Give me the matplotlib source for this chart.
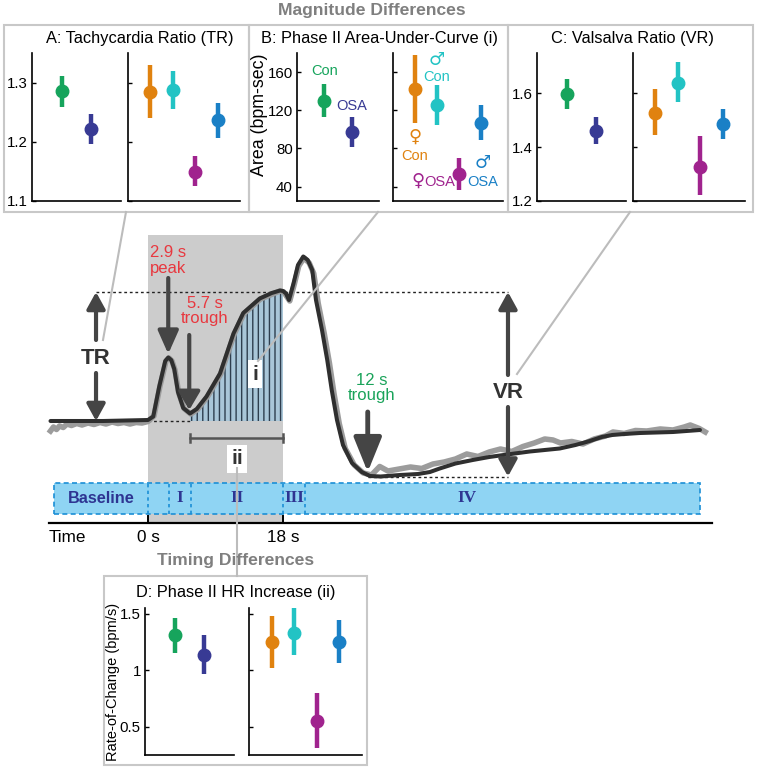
import matplotlib.pyplot as plt
from matplotlib.patches import Rectangle, FancyArrowPatch

plt.rcParams['font.family'] = ['Liberation Sans', 'DejaVu Sans']
plt.rcParams['hatch.linewidth'] = 1.0

# ---- group colours (Con / OSA, then female Con, male Con, female OSA, male OSA)
pair_colors = ['#16a45c', '#383a94']
sex_colors = ['#e0820f', '#22c3c4', '#a0238e', '#1a80c6']

# ---- panel data: mean, lower, upper
tr_pair = [[1.285, 1.222], [1.259, 1.197], [1.311, 1.247]]
tr_sex = [[1.284, 1.287, 1.149, 1.236], [1.240, 1.256, 1.125, 1.207], [1.330, 1.319, 1.176, 1.266]]
auc_pair = [[130, 97], [113, 82], [148, 113]]
auc_sex = [[142, 126, 53, 107], [107, 105, 37, 89], [178, 146, 70, 126]]
vr_pair = [[1.596, 1.460], [1.543, 1.410], [1.654, 1.512]]
vr_sex = [[1.527, 1.637, 1.326, 1.486], [1.444, 1.567, 1.221, 1.431], [1.615, 1.715, 1.441, 1.543]]
rate_pair = [[1.31, 1.13], [1.15, 0.97], [1.46, 1.31]]
rate_sex = [[1.25, 1.33, 0.55, 1.25], [1.02, 1.13, 0.31, 1.06], [1.48, 1.55, 0.80, 1.44]]

# ---- schematic heart-rate trace (time in s, HR in bpm)
t_fit = [-13.0, -6.0, 0.0, 0.7, 1.5, 2.3, 2.7, 3.1, 3.5, 4.0, 4.7, 5.6, 6.5, 7.8, 9.6,
         11.4, 12.7, 14.9, 16.5, 17.6, 18.0, 18.4, 18.8, 19.4, 20.0, 20.7, 21.3, 21.9,
         22.4, 23.2, 23.9, 24.5, 25.2, 26.0, 27.2, 28.5, 29.6, 31.0, 33.6, 36.0, 37.6,
         38.9, 41.0, 43.3, 45.5, 47.9, 50.9, 54.9, 57.0, 58.9, 60.5, 61.9, 63.5, 65.6,
         70.0, 73.6]
hr_fit = [70.0, 70.0, 70.2, 70.9, 76.9, 82.0, 82.7, 82.2, 80.4, 75.8, 72.6, 71.5, 72.4,
          74.9, 79.5, 87.5, 91.6, 94.5, 95.6, 96.1, 96.0, 95.5, 94.2, 97.5, 101.2, 102.9,
          102.2, 100.2, 94.2, 88.2, 82.2, 76.2, 70.2, 65.2, 61.6, 59.8, 59.0, 58.9, 59.2,
          59.4, 59.8, 60.5, 61.5, 62.2, 62.8, 63.3, 63.9, 64.5, 65.2, 66.0, 66.8, 67.2,
          67.4, 67.6, 67.8, 68.2]
t_raw = [-13.0, -12.6, -12.2, -11.8, -11.3, -10.8, -10.2, -9.5, -8.8, -8.0, -7.2, -6.4,
         -5.6, -4.8, -4.0, -3.2, -2.4, -1.6, -0.8, 0.0,
         0.8, 1.6, 2.4, 2.8, 3.2, 3.6, 4.1, 4.8, 5.7, 6.6, 7.9, 9.7, 11.5, 12.8, 15.0,
         17.6, 18.1, 18.9, 19.5, 20.1, 20.8, 21.5, 22.1, 22.7, 23.5, 24.2, 24.8, 25.5,
         26.3, 27.5, 28.7, 29.8,
         30.9, 32.0, 33.5, 35.0, 36.5, 38.0, 39.5, 41.0, 42.5, 44.0, 45.5, 47.0, 48.5,
         50.0, 51.5, 52.9, 54.0, 55.0, 56.5, 58.0, 59.5, 61.0, 62.0, 63.5, 65.0, 66.5,
         68.3, 70.0, 71.5, 72.3, 73.5, 74.3]
hr_raw = [68.0, 68.8, 68.3, 69.0, 68.7, 69.4, 69.1, 69.5, 69.2, 69.6, 69.3, 69.7, 69.4,
          69.8, 69.5, 69.7, 69.4, 69.7, 69.6, 69.9,
          71.0, 77.0, 82.0, 82.6, 82.0, 80.2, 75.6, 72.5, 71.4, 72.3, 74.8, 79.4, 87.4,
          91.5, 94.4, 96.0, 95.8, 94.0, 97.3, 101.0, 102.6, 101.6, 99.5, 93.5, 87.5,
          81.5, 75.5, 69.5, 64.5, 61.2, 59.6, 59.2,
          60.9, 60.0, 60.4, 60.8, 60.5, 61.4, 61.8, 62.4, 63.4, 62.9, 63.8, 64.4, 63.9,
          64.9, 65.6, 66.4, 66.2, 65.6, 65.9, 65.4, 66.4, 67.0, 67.8, 67.5, 68.1, 68.0,
          68.4, 68.2, 68.8, 69.2, 68.5, 67.8]

phase_edges = [-12.5, 0.0, 2.8, 5.7, 18.0, 21.0, 73.6]
phase_names = ['I', 'II', 'III', 'IV']
phase_label_t = [4.25, 11.85, 19.5, 42.5]

baseline_hr = 70.0
peak_t, trough_t, late_trough_t = 2.7, 5.6, 29.3
tr_top = 95.8
vr_bottom = 58.9

W, H = 759, 770
fig = plt.figure(figsize=(W / 100, H / 100), dpi=100)


def px_axes(x0, y0, x1, y1, **kw):
    return fig.add_axes([x0 / W, 1 - y1 / H, (x1 - x0) / W, (y1 - y0) / H], **kw)


def style(ax, ylim, yticks, yticklabels, show_labels):
    ax.set_ylim(*ylim)
    ax.set_yticks(yticks)
    ax.set_yticklabels(yticklabels if show_labels else [])
    ax.set_xticks([])
    for s in ('top', 'right'):
        ax.spines[s].set_visible(False)
    for s in ('left', 'bottom'):
        ax.spines[s].set_linewidth(1.2)
    ax.tick_params(axis='y', direction='in', length=3, width=1, labelsize=10.8, pad=3)
    ax.patch.set_alpha(0)


def dots(ax, data, cols):
    m, lo, hi = data
    for i in range(len(m)):
        ax.errorbar(i + 1, m[i], yerr=[[m[i] - lo[i]], [hi[i] - m[i]]], fmt='o',
                    color=cols[i], ms=9, elinewidth=3.2, capsize=0)
    ax.set_xlim(0, len(m) + 1)


def panel(xl, xr, y0, y1, pair, sex, ylim, yticks, ylabels):
    al = px_axes(xl[0], y0, xl[1], y1)
    ar = px_axes(xr[0], y0, xr[1], y1)
    dots(al, pair, pair_colors)
    dots(ar, sex, sex_colors)
    style(al, ylim, yticks, ylabels, True)
    style(ar, ylim, yticks, ylabels, False)
    return al, ar


aA = panel((32, 121), (128, 240), 53, 201, tr_pair, tr_sex, (1.1, 1.35),
           [1.1, 1.2, 1.3], ['1.1', '1.2', '1.3'])
aB = panel((297, 379), (393, 503), 53, 201, auc_pair, auc_sex, (25, 180),
           [40, 80, 120, 160], ['40', '80', '120', '160'])
aC = panel((537, 626), (633, 745), 53, 201, vr_pair, vr_sex, (1.2, 1.75),
           [1.2, 1.4, 1.6], ['1.2', '1.4', '1.6'])
aD = panel((145, 234), (249, 362), 608, 755, rate_pair, rate_sex, (0.25, 1.55),
           [0.5, 1.0, 1.5], ['0.5', '1', '1.5'])

aB[0].set_ylabel('Area (bpm-sec)', fontsize=12.8)
aB[0].yaxis.set_label_coords(-0.355, 0.585)
aD[0].set_ylabel('Rate-of-Change (bpm/s)', fontsize=10.5)
aD[0].yaxis.set_label_coords(-0.28, 0.5)

# group labels in panel B
bl, br = aB
bl.text(1, 161, 'Con', color=pair_colors[0], ha='center', va='center', fontsize=10.5)
bl.text(2, 124, 'OSA', color=pair_colors[1], ha='center', va='center', fontsize=10.5)
sym = dict(ha='center', va='center', fontsize=13, family=['DejaVu Sans'])
lab = dict(ha='center', va='center', fontsize=10.5)
br.text(2, 173, '\u2642', color=sex_colors[1], **sym)
br.text(2, 154.5, 'Con', color=sex_colors[1], **lab)
br.text(1, 92, '\u2640', color=sex_colors[0], **sym)
br.text(1, 72, 'Con', color=sex_colors[0], **lab)
br.text(1.12, 46, '\u2640', color=sex_colors[2], **sym)
br.text(2.1, 45, 'OSA', color=sex_colors[2], **lab)
br.text(4.06, 64.5, '\u2642', color=sex_colors[3], **sym)
br.text(4.06, 45, 'OSA', color=sex_colors[3], **lab)

# ---- main schematic
ax = px_axes(46, 230, 714, 540)
ax.set_xlim(-13.6, 75.47)
ax.set_ylim(46.2, 108.2)
ax.axis('off')

ax.add_patch(Rectangle((0, 49.6), 18, 57.6, color='#cccccc', lw=0, zorder=0))

bar_lo, bar_hi = 51.34, 57.66
ax.add_patch(Rectangle((phase_edges[0], bar_lo), phase_edges[-1] - phase_edges[0],
                       bar_hi - bar_lo, facecolor='#8fd4f3', edgecolor='#1b8fd6',
                       lw=1.2, ls=(0, (3, 2)), zorder=1))
for e in phase_edges[1:-1]:
    ax.plot([e, e], [bar_lo, bar_hi], color='#1b8fd6', lw=1.2, ls=(0, (2, 2)), zorder=1)
ax.text(-6.25, (bar_lo + bar_hi) / 2, 'Baseline', color='#2e3592', fontsize=11.7,
        fontweight='bold', ha='center', va='center', zorder=2)
for name, tx in zip(phase_names, phase_label_t):
    ax.text(tx, (bar_lo + bar_hi) / 2, name, color='#2e3592', fontsize=12.5,
            fontweight='bold', family='Liberation Serif', ha='center', va='center', zorder=2)

# time axis
ax.plot([-13.2, 75.2], [49.6, 49.6], color='black', lw=1.6, zorder=2, clip_on=False)
for tk in (0, 18):
    ax.plot([tk, tk], [49.6, 51.0], color='black', lw=1.4, zorder=2)
ax.text(-13.2, 46.6, 'Time', fontsize=12.3, ha='left', va='center')
ax.text(0, 46.6, '0 s', fontsize=12.3, ha='center', va='center')
ax.text(18, 46.6, '18 s', fontsize=12.3, ha='center', va='center')

# area under curve in phase II
in_phase2 = [trough_t <= t <= 18 for t in t_fit]
ax.fill_between(t_fit, hr_fit, baseline_hr, where=in_phase2, facecolor='#a9c6d8',
                edgecolor='#2e3e4e', hatch='|||', lw=0, zorder=2)

# reference lines
dot = dict(color='#222222', lw=1.0, ls=(0, (2, 2)), zorder=3)
ax.plot([-6.93, 48.0], [tr_top, tr_top], **dot)
ax.plot([0, trough_t], [baseline_hr, baseline_hr], **dot)
ax.plot([late_trough_t, 48.0], [vr_bottom, vr_bottom], **dot)

ax.plot(t_raw, hr_raw, color='#9c9c9c', lw=4.0, solid_joinstyle='round', zorder=3)
ax.plot(t_fit, hr_fit, color='#2f2f2f', lw=2.9, solid_joinstyle='round',
        solid_capstyle='round', zorder=4)


def arrow(x, y0, y1, hl, hw, lw=3.0):
    ax.add_patch(FancyArrowPatch((x, y0), (x, y1),
                                 arrowstyle=f'-|>,head_length={hl},head_width={hw}',
                                 mutation_scale=1, lw=lw, color='#454545',
                                 shrinkA=0, shrinkB=0, zorder=5))


arrow(-6.93, 86.2, tr_top, 10, 5.5)
arrow(-6.93, 79.6, baseline_hr, 10, 5.5)
arrow(48.0, 79.2, tr_top, 10, 5.5)
arrow(48.0, 72.8, vr_bottom, 10, 5.5)
arrow(peak_t, 98.6, 83.4, 14, 6.2)
arrow(trough_t - 0.1, 87.2, 72.2, 11, 6.5)
arrow(late_trough_t, 71.8, 59.8, 21, 8.5, lw=3.5)

ax.text(-6.93, 82.4, 'TR', fontsize=16, fontweight='bold', color='#333333',
        ha='center', va='center', zorder=6)
ax.text(48.0, 75.6, 'VR', fontsize=16, fontweight='bold', color='#333333',
        ha='center', va='center', zorder=6)
ax.text(2.7, 102.1, '2.9 s\npeak', color='#e8383f', fontsize=12, ha='center',
        va='center', linespacing=1.05, zorder=6)
ax.text(7.6, 92.0, '5.7 s\ntrough', color='#e8383f', fontsize=12, ha='center',
        va='center', linespacing=1.05, zorder=6)
ax.text(29.8, 76.6, '12 s\ntrough', color='#1aa35a', fontsize=12, ha='center',
        va='center', linespacing=1.05, zorder=6)

# phase II rise bracket
ax.plot([trough_t, 18], [66.6, 66.6], color='#555555', lw=1.8, zorder=5)
for e in (trough_t, 18):
    ax.plot([e, e], [65.8, 67.4], color='#555555', lw=1.8, zorder=5)

box = dict(boxstyle='square,pad=0.2', facecolor='white', edgecolor='none')
ax.text(14.3, 79.4, 'i', fontsize=15, fontweight='bold', color='#333333',
        ha='center', va='center', bbox=box, zorder=6)
ax.text(11.9, 62.4, 'ii', fontsize=15, fontweight='bold', color='#333333',
        ha='center', va='center', bbox=box, zorder=6)

# ---- overlay: panel frames, headers and connectors (pixel coordinates)
ov = fig.add_axes([0, 0, 1, 1], zorder=10)
ov.set_xlim(0, W)
ov.set_ylim(H, 0)
ov.axis('off')
frame = dict(fill=False, edgecolor='#c8c8c8', lw=1.5)
for x0, y0, x1, y1 in [(4, 25, 249, 212), (249, 25, 508, 212), (508, 25, 753, 212),
                       (104, 576, 367, 765)]:
    ov.add_patch(Rectangle((x0, y0), x1 - x0, y1 - y0, **frame))
ov.text(140, 39, 'A: Tachycardia Ratio (TR)', fontsize=11.8, ha='center', va='center')
ov.text(379, 39, 'B: Phase II Area-Under-Curve (i)', fontsize=11.8, ha='center', va='center')
ov.text(632, 39, 'C: Valsalva Ratio (VR)', fontsize=11.8, ha='center', va='center')
ov.text(236, 592, 'D: Phase II HR Increase (ii)', fontsize=11.8, ha='center', va='center')
ov.text(372, 11, 'Magnitude Differences', fontsize=12.6, fontweight='bold',
        color='#7f7f7f', ha='center', va='center')
ov.text(236, 560, 'Timing Differences', fontsize=12.6, fontweight='bold',
        color='#7f7f7f', ha='center', va='center')
link = dict(color='#bcbcbc', lw=1.5)
ov.plot([126, 103], [212, 340], **link)
ov.plot([378, 258], [212, 361], **link)
ov.plot([630, 517], [212, 374], **link)
ov.plot([237, 237], [468, 576], **link)

fig.savefig('out.png', dpi=100)
